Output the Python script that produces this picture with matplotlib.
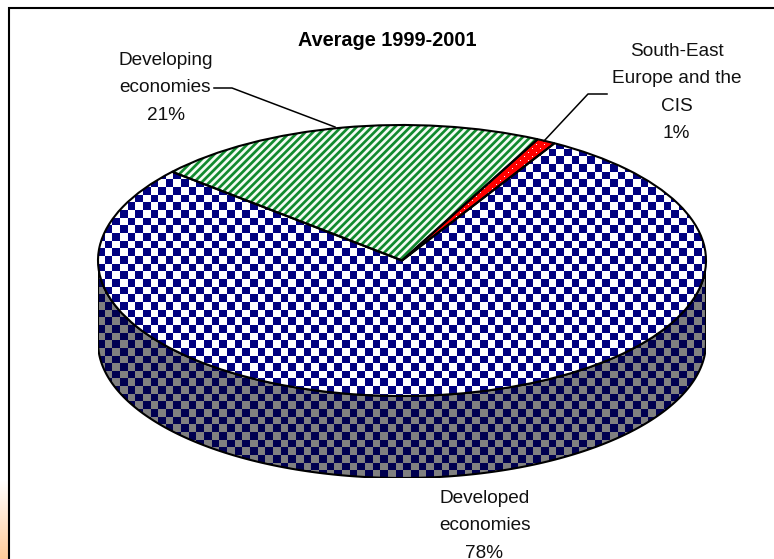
import numpy as np
import matplotlib
matplotlib.use('Agg')
import matplotlib.pyplot as plt
from matplotlib.patches import Polygon
from matplotlib.colors import to_rgb

plt.rcParams['font.family'] = ['Liberation Sans', 'DejaVu Sans']

title = 'Average 1999-2001'
values = [21, 78, 1]
names = ['Developing\neconomies', 'Developed\neconomies', 'South-East\nEurope and the\nCIS']

W, H = 774, 559
left, right, top, bottom = 98, 706, 125, 478
rx, ry = 304, 135.5
depth = (bottom - top - 2 * ry) / ry

fig = plt.figure(figsize=(W / 100, H / 100), dpi=100, facecolor='white')

# background, in pixel coords
bg = fig.add_axes([0, 0, 1, 1])
bg.axis('off')
fade = np.ones((H, 8, 3))
t = np.clip((np.arange(H) - 480) / 79, 0, 1)[:, None, None]
fade = fade * (1 - t) + np.array(to_rgb('#ffcc99')) * t
bg.imshow(fade, extent=(0, 8, H, 0), aspect='auto', interpolation='nearest')
bg.set_xlim(0, W)
bg.set_ylim(H, 0)
bg.plot([9, 9, W - 1], [H, 8, 8], color='black', lw=1.5, solid_joinstyle='miter')

# textures per pixel
ax_w, ax_h = right - left, bottom - top
Y, X = np.mgrid[top:bottom, left:right]

def blend(mask, c1, c2):
    mask = mask[:, :, None]
    return mask * np.array(to_rgb(c1)) + (1 - mask) * np.array(to_rgb(c2))

def checker(c1, c2, cell=7.66):
    mask = (np.floor((X + 3.2) / cell) + np.floor((Y + 5) / cell)) % 2 == 0
    return blend(mask.astype(float), c1, c2)

def stripes(c1, c2, period=7.66):
    mask = np.clip(0.5 + 0.9 * np.cos(2 * np.pi * (X + Y) / period), 0, 1)
    return blend(mask, c1, c2)

def dots(c1, c2, period=8):
    mask = (((X + Y) % period) < 1) & (((X - Y) % period) < 1)
    return blend(mask.astype(float), c2, c1)

ax = fig.add_axes([left / W, 1 - bottom / H, ax_w / W, ax_h / H])
ax.patch.set_alpha(0)
wedges, _ = ax.pie(values, startangle=63.5, radius=1, counterclock=True,
                   wedgeprops=dict(facecolor='none', edgecolor='black', linewidth=1.5))
ax.set_aspect('auto')
ext = (-1, 1, -1 - depth, 1)

# side wall
th = np.radians(np.linspace(180, 360, 200))
front = np.c_[np.cos(th), np.sin(th) - depth]
back = np.c_[np.cos(th[::-1]), np.sin(th[::-1])]
wall = Polygon(np.r_[front, back], closed=True, facecolor='none', edgecolor='black', linewidth=1.5, zorder=3)
ax.add_patch(wall)
im = ax.imshow(checker('#000050', '#808080'), extent=ext, aspect='auto', interpolation='nearest', zorder=2)
im.set_clip_path(wall)

for w, tex in zip(wedges, [stripes('#118a2e', '#f4fbf4'), checker('#000080', '#ffffff'), dots('#ff0000', '#ffffff')]):
    w.set_zorder(5)
    im = ax.imshow(tex, extent=ext, aspect='auto', interpolation='nearest', zorder=4)
    im.set_clip_path(w)
ax.set_xlim(-1, 1)
ax.set_ylim(-1 - depth, 1)

# labels
lab = dict(ha='center', va='center', fontsize=13.7, color='#111111', linespacing=1.82)
bg.set_zorder(6)
bg.patch.set_alpha(0)
bg.text(387, 41, title, ha='center', va='center', fontsize=14.3, fontweight='bold', color='black')
bg.text(165.5, 88, names[0] + '\n%d%%' % values[0], **lab)
bg.text(484.5, 526, names[1] + '\n%d%%' % values[1], clip_on=True, **lab)
bg.text(676.5, 92.5, names[2] + '\n%d%%' % values[2], **lab)
bg.plot([214, 232, 335], [88, 88, 127], color='black', lw=1.1)
bg.plot([544, 588, 607], [141, 94, 94], color='black', lw=1.1)

fig.savefig('out.png', dpi=100)
